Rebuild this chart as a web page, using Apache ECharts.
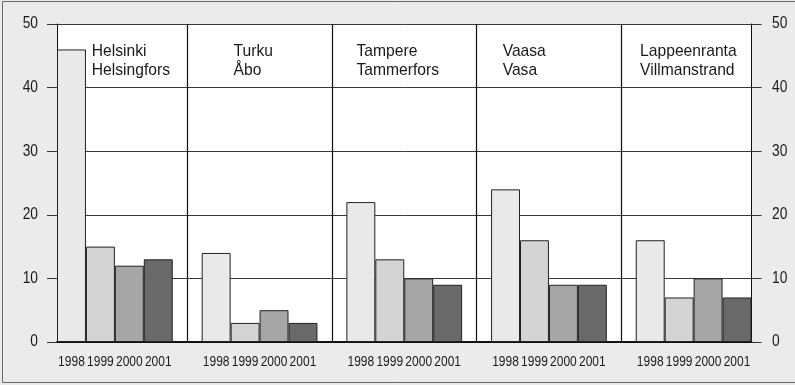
<!DOCTYPE html>
<html>
<head>
<meta charset="utf-8">
<script src="https://cdn.jsdelivr.net/npm/echarts@6/dist/echarts.min.js"></script>
<style>
  html, body { margin: 0; padding: 0; background: #ebebeb; }
  #chart { width: 795px; height: 385px; }
</style>
</head>
<body>
<div id="chart"></div>
<script>
// Cities (Finnish / Swedish names) and the four years shown per city
const regions = [
  ['Helsinki', 'Helsingfors'],
  ['Turku', 'Åbo'],
  ['Tampere', 'Tammerfors'],
  ['Vaasa', 'Vasa'],
  ['Lappeenranta', 'Villmanstrand']
];
const years = ['1998', '1999', '2000', '2001'];

// Values per city, one per year 1998–2001
const helsinki     = [46, 15, 12, 13];
const turku        = [14, 3, 5, 3];
const tampere      = [22, 13, 10, 9];
const vaasa        = [24, 16, 9, 9];
const lappeenranta = [16, 7, 10, 7];
const cityValues = [helsinki, turku, tampere, vaasa, lappeenranta];

// Y axis ticks
const yTicks = [0, 10, 20, 30, 40, 50];

const yearColors = ['#e9e9e9', '#d4d4d4', '#a6a6a6', '#696969'];
const FONT = '"Liberation Sans", Arial, sans-serif';
const TEXT_COLOR = '#1a1a1a';

// Flatten into slots: 4 bars per city, then one empty slot holding the divider
const categories = [];
const barData = [];
const dividerSlots = [];
const cityStartSlots = [];
cityValues.forEach((vals, ci) => {
  cityStartSlots.push(categories.length);
  vals.forEach((v, yi) => {
    categories.push(years[yi]);
    barData.push({ value: v, itemStyle: { color: yearColors[yi] } });
  });
  if (ci < cityValues.length - 1) {
    dividerSlots.push(categories.length);
    categories.push('');
    barData.push('-');
  }
});

const chart = echarts.init(document.getElementById('chart'));

const axisCommon = {
  type: 'value',
  min: yTicks[0],
  max: yTicks[yTicks.length - 1],
  interval: 10,
  axisLine: { show: true, lineStyle: { color: '#111', width: 1 } },
  axisTick: { show: true, length: 10, lineStyle: { color: '#333', width: 1 } },
  axisLabel: { show: false }
};

chart.setOption({
  backgroundColor: '#ebebeb',
  animation: false,
  grid: { left: 57, right: 43.5, top: 24, bottom: 43, show: true, backgroundColor: '#fff', borderWidth: 0 },
  xAxis: {
    type: 'category',
    data: categories,
    axisLine: { show: true, lineStyle: { color: '#111', width: 2 } },
    axisTick: { show: false },
    axisLabel: { show: false },
    splitLine: { show: false }
  },
  yAxis: [
    Object.assign({}, axisCommon, {
      position: 'left',
      splitLine: { show: true, lineStyle: { color: '#3a3a3a', width: 1 } }
    }),
    Object.assign({}, axisCommon, {
      position: 'right',
      splitLine: { show: false }
    })
  ],
  series: [{
    type: 'bar',
    data: barData,
    barWidth: '100%',
    itemStyle: { borderColor: '#222', borderWidth: 1 },
    markLine: {
      silent: true,
      symbol: 'none',
      label: { show: false },
      lineStyle: { color: '#111', width: 1.2, type: 'solid' },
      data: dividerSlots.map(s => ({ xAxis: s }))
    }
  }]
});

// Condensed typeface: regular sans text squeezed horizontally
function condensedText(x, y, text, size, scale, align, vAlign, lineHeight) {
  return {
    type: 'text', z: 100, silent: true,
    x: x, y: y, scaleX: scale,
    style: {
      text: text,
      fontFamily: FONT,
      fontSize: size,
      fill: TEXT_COLOR,
      textAlign: align,
      textVerticalAlign: vAlign,
      lineHeight: lineHeight || size
    }
  };
}

const elements = [{
  type: 'rect', z: 100, silent: true,
  shape: { x: 2.5, y: 1.5, width: 800, height: 381 },
  style: { fill: 'none', stroke: '#6a6a6a', lineWidth: 1 }
}];

const gridRect = chart.getModel().getComponent('grid').coordinateSystem.getRect();
const leftX = gridRect.x;
const rightX = gridRect.x + gridRect.width;
const slotW = gridRect.width / categories.length;

// Year labels under each bar
const baseY = chart.convertToPixel({ yAxisIndex: 0 }, 0);
categories.forEach((c, i) => {
  if (!c) return;
  const x = chart.convertToPixel({ xAxisIndex: 0 }, i);
  elements.push(condensedText(x, baseY + 19.5, c, 15, 0.8, 'center', 'middle'));
});

// Value ticks on both sides
yTicks.forEach(t => {
  const y = chart.convertToPixel({ yAxisIndex: 0 }, t);
  elements.push(condensedText(leftX - 19, y, String(t), 16, 0.86, 'right', 'middle'));
  elements.push(condensedText(rightX + 20.5, y, String(t), 16, 0.86, 'left', 'middle'));
});

// City names at the top of each panel
const titleOffsets = [1.2, 1.1, 0.35, 0.4, 0.15];
regions.forEach((r, i) => {
  const x = gridRect.x + (cityStartSlots[i] + titleOffsets[i]) * slotW;
  elements.push(condensedText(x, 42, r.join('\n'), 17, 0.92, 'left', 'top', 19));
});

chart.setOption({ graphic: elements });
</script>
</body>
</html>
